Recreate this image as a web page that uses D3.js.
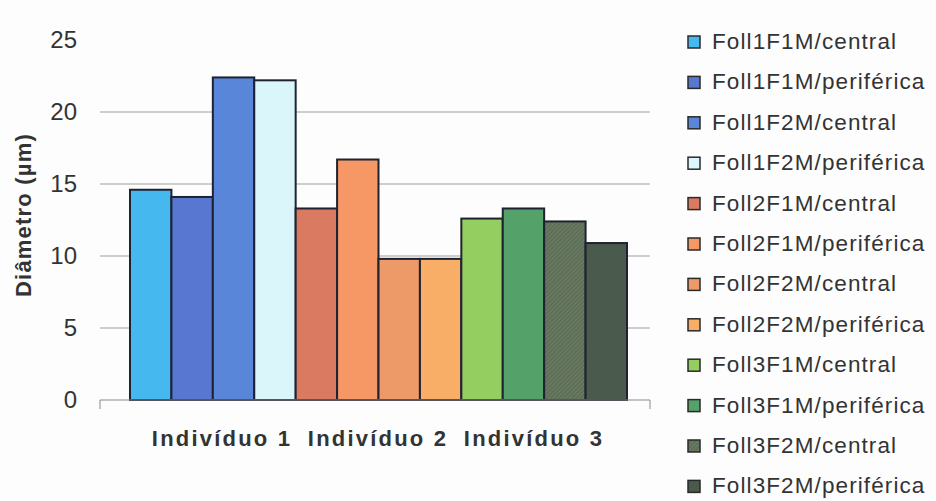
<!DOCTYPE html>
<html>
<head>
<meta charset="utf-8">
<script src="https://cdn.jsdelivr.net/npm/d3@7"></script>
<style>
  body { margin: 0; background: #fdfdfd; }
  svg { display: block; font-family: "Liberation Sans", Arial, sans-serif; }
</style>
</head>
<body>
<script>
const width = 936;
const height = 501;

// Données
const individuos = ["Indivíduo 1", "Indivíduo 2", "Indivíduo 3"];
const series = [
  "Foll1F1M/central", "Foll1F1M/periférica", "Foll1F2M/central", "Foll1F2M/periférica",
  "Foll2F1M/central", "Foll2F1M/periférica", "Foll2F2M/central", "Foll2F2M/periférica",
  "Foll3F1M/central", "Foll3F1M/periférica", "Foll3F2M/central", "Foll3F2M/periférica"
];
const valores = [14.6, 14.1, 22.4, 22.2, 13.3, 16.7, 9.8, 9.8, 12.6, 13.3, 12.4, 10.9];
const cores = [
  "#45b8f0", "#5877d0", "#5a86da", "#daf6fa",
  "#da7a60", "#f59866", "#ee9a68", "#f8ae66",
  "#94ce60", "#54a26a", "#5e6f57", "#4a5a4c"
];
const yTicks = [0, 5, 10, 15, 20, 25];

const svg = d3.select("body")
  .append("svg")
  .attr("width", width)
  .attr("height", height);

// Motif hachuré fin pour Foll3F2M/central
const pattern = svg.append("defs")
  .append("pattern")
  .attr("id", "hachure")
  .attr("width", 3)
  .attr("height", 3)
  .attr("patternUnits", "userSpaceOnUse")
  .attr("patternTransform", "rotate(45)");
pattern.append("rect")
  .attr("width", 3)
  .attr("height", 3)
  .attr("fill", cores[10]);
pattern.append("line")
  .attr("x1", 0).attr("y1", 0)
  .attr("x2", 0).attr("y2", 3)
  .attr("stroke", "#7d8a72")
  .attr("stroke-width", 1);

const remplissage = i => (i === 10 ? "url(#hachure)" : cores[i]);

// Échelles
const y = d3.scaleLinear().domain([0, 25]).range([400, 40]);
const xGroupe = d3.scaleBand().domain(individuos).range([130, 627]);
const xSerie = d3.scaleBand().domain(d3.range(4)).range([0, xGroupe.bandwidth()]);
const xLabel = d3.scalePoint().domain(individuos).range([222, 534]);

const plotLeft = 100, plotRight = 650;

// Lignes de grille (sans la ligne du haut)
svg.append("g")
  .selectAll("line")
  .data(yTicks.filter(t => t > 0 && t < 25))
  .enter()
  .append("line")
  .attr("x1", plotLeft)
  .attr("x2", plotRight)
  .attr("y1", d => y(d))
  .attr("y2", d => y(d))
  .attr("stroke", "#a0a0a0")
  .attr("stroke-width", 1);

// Axe Y (étiquettes seulement)
const yAxis = svg.append("g")
  .attr("transform", `translate(${plotLeft},0)`)
  .call(d3.axisLeft(y).tickValues(yTicks).tickSize(0).tickPadding(23));
yAxis.select(".domain").remove();
yAxis.selectAll("text")
  .attr("font-size", "24px")
  .attr("font-family", "Liberation Sans, Arial, sans-serif")
  .attr("fill", "#333");

// Barres
svg.append("g")
  .selectAll("rect")
  .data(valores)
  .enter()
  .append("rect")
  .attr("x", (d, i) => xGroupe(individuos[Math.floor(i / 4)]) + xSerie(i % 4))
  .attr("y", d => y(d))
  .attr("width", xSerie.bandwidth())
  .attr("height", d => y(0) - y(d))
  .attr("fill", (d, i) => remplissage(i))
  .attr("stroke", "#1f2230")
  .attr("stroke-width", 2);

// Axe X : ligne de base avec petites graduations aux extrémités
svg.append("path")
  .attr("d", `M${plotLeft},${y(0) + 9}V${y(0)}H${plotRight}V${y(0) + 9}`)
  .attr("fill", "none")
  .attr("stroke", "#8a8a8a")
  .attr("stroke-width", 1);

svg.append("g")
  .selectAll("text")
  .data(individuos)
  .enter()
  .append("text")
  .attr("x", d => xLabel(d))
  .attr("y", 446)
  .attr("text-anchor", "middle")
  .attr("font-size", "22px")
  .attr("font-weight", "bold")
  .attr("letter-spacing", "2.2px")
  .attr("fill", "#333")
  .text(d => d);

// Titre de l'axe Y
svg.append("text")
  .attr("transform", `translate(31,${(y(0) + y(25)) / 2 - 5}) rotate(-90)`)
  .attr("text-anchor", "middle")
  .attr("font-size", "22px")
  .attr("font-weight", "bold")
  .attr("letter-spacing", "1.2px")
  .attr("fill", "#333")
  .text("Diâmetro (µm)");

// Légende
const legende = svg.append("g")
  .selectAll("g")
  .data(series)
  .enter()
  .append("g")
  .attr("transform", (d, i) => `translate(688,${42 + i * 40.4})`);

legende.append("rect")
  .attr("x", 0)
  .attr("y", -6)
  .attr("width", 12)
  .attr("height", 12)
  .attr("fill", (d, i) => remplissage(i))
  .attr("stroke", "#2a2a2a")
  .attr("stroke-width", 1.5);

legende.append("text")
  .attr("x", 24)
  .attr("y", 7)
  .attr("font-size", "22.5px")
  .attr("letter-spacing", "1.1px")
  .attr("fill", "#333")
  .text(d => d);
</script>
</body>
</html>
